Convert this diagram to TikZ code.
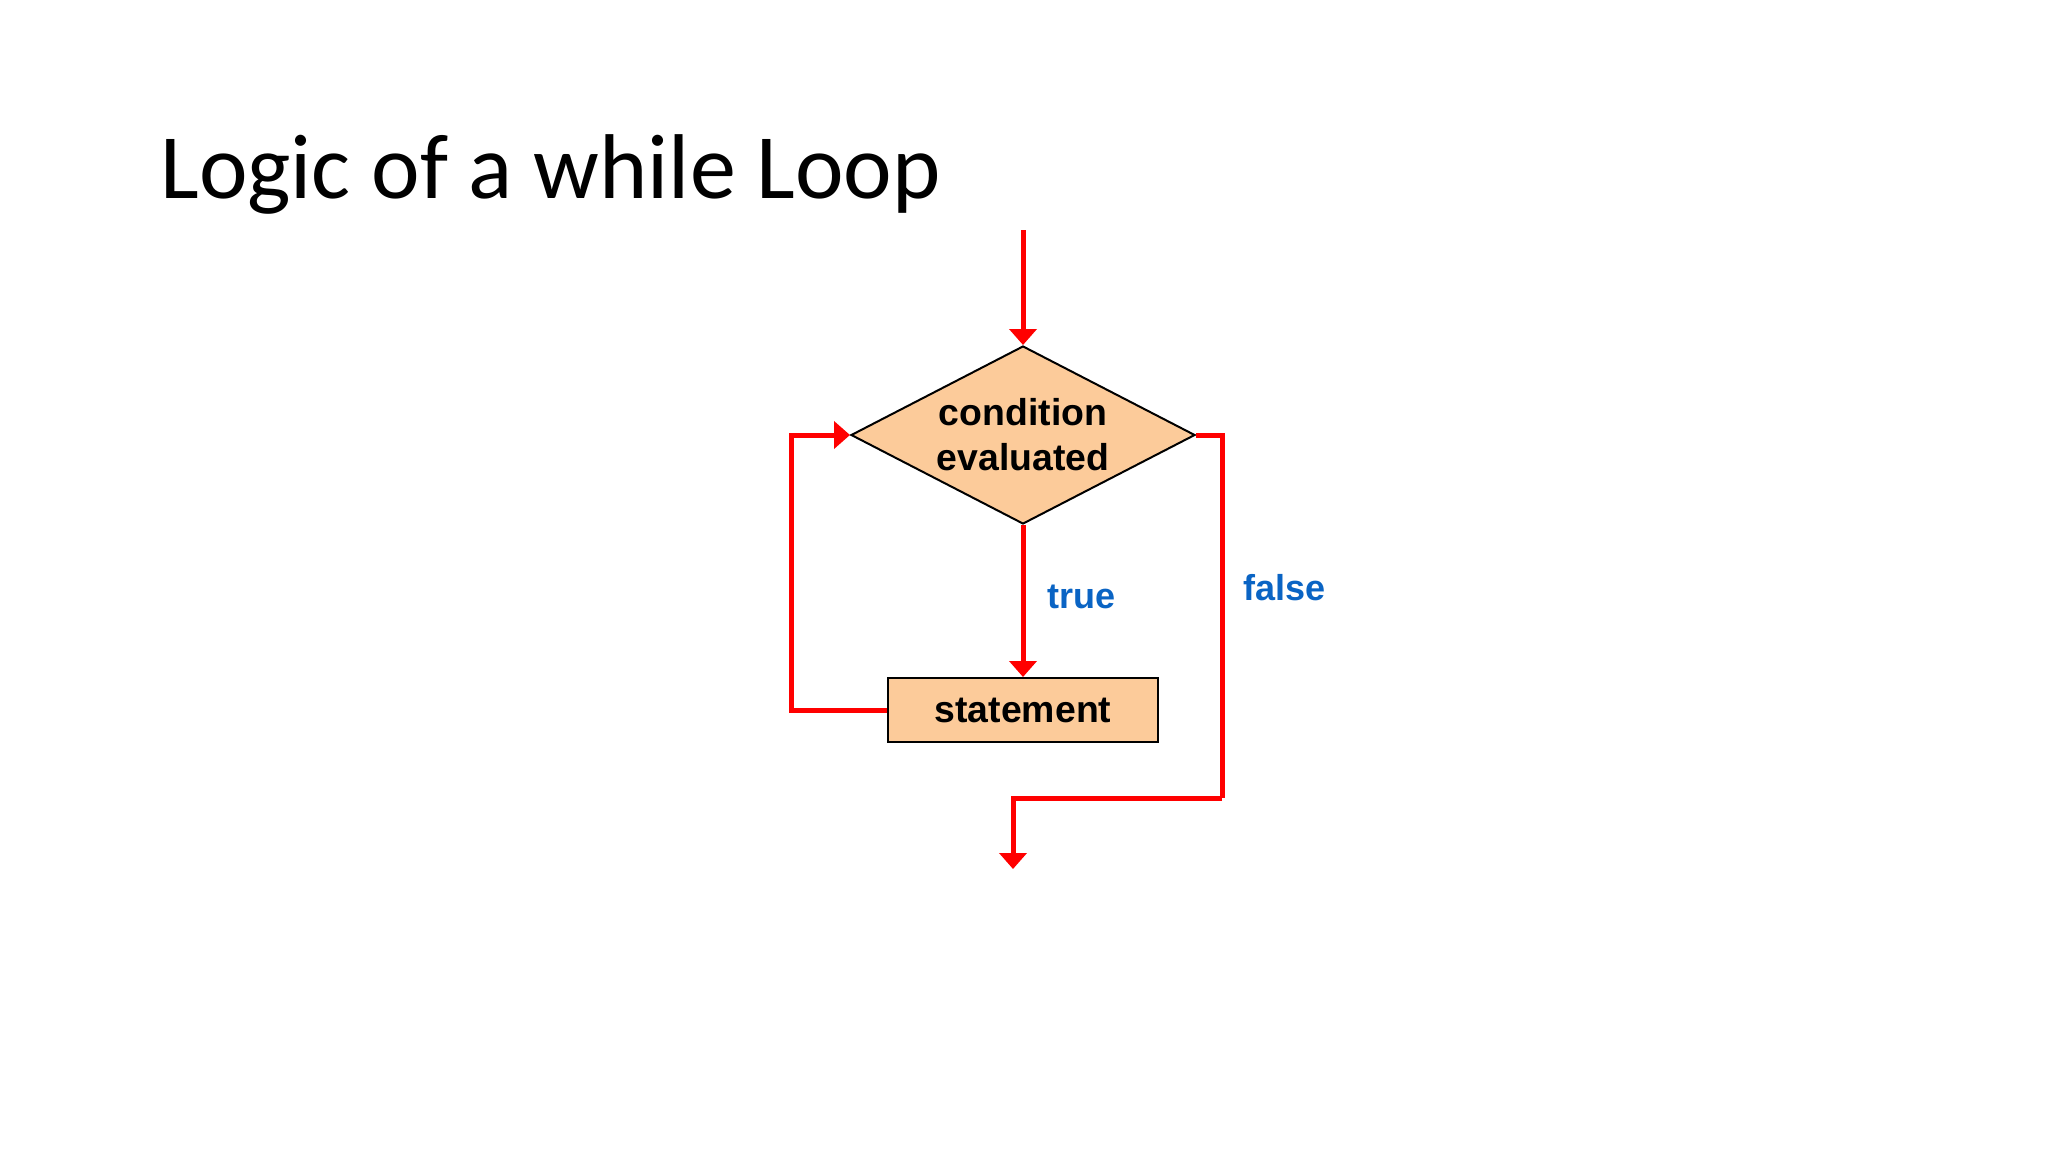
\documentclass[tikz,border=0pt]{standalone}
\usepackage{fontspec}
\setmainfont{Liberation Sans}
\newfontfamily\titlefont{Carlito}
\usetikzlibrary{shapes.geometric,arrows.meta}
\definecolor{peach}{HTML}{FCCB9A}
\definecolor{flowred}{HTML}{FF0000}
\definecolor{labelblue}{HTML}{0A64C4}
\tikzset{
  px/.style={x=0.5pt,y=-0.5pt},
  decision/.style={diamond,draw=black,line width=1pt,fill=peach,minimum width=172pt,minimum height=89pt,inner sep=0pt},
  process/.style={rectangle,draw=black,line width=1pt,fill=peach,minimum width=135pt,minimum height=32pt,inner sep=0pt},
  boxtext/.style={font=\bfseries\fontsize{18.7}{22.5}\selectfont,align=center,inner sep=0pt},
  flow/.style={draw=flowred,line width=2.5pt,-{Triangle[width=13.5pt,length=8pt]}},
  flowplain/.style={draw=flowred,line width=2.5pt},
  branch/.style={font=\bfseries\fontsize{18}{21}\selectfont,text=labelblue,anchor=base west,inner sep=0pt}
}
\begin{document}
\begin{tikzpicture}[px]
\useasboundingbox (0,0) rectangle (2048,1152);
\fill[white] (0,0) rectangle (2048,1152);
\node[anchor=base west,inner sep=0pt,font=\titlefont\fontsize{46}{55}\selectfont] (title) at (160,198) {Logic of a while Loop};
\node[decision] (cond) at (1023,435) {};
\node[boxtext] (condtext) at (cond.center) {condition\\evaluated};
\node[process] (stmt) at (1023,710) {};
\node[boxtext] (stmttext) at (stmt.center) {statement};
\coordinate (start) at (1023,230);
\coordinate (fa) at (1222,798);
\coordinate (fend) at (1013,869);
\draw[flow] (start) -- (cond.north);
\draw[flow] (cond.south) -- (stmt.north);
\draw[flow] (stmt.west) -- ++(-96,0) |- (cond.west);
\draw[flowplain] (cond.east) -| (fa);
\draw[flow] (fa) -| (fend);
\node[branch] (truelbl) at (1047,608) {true};
\node[branch] (falselbl) at (1243,600) {false};
\end{tikzpicture}
\end{document}
